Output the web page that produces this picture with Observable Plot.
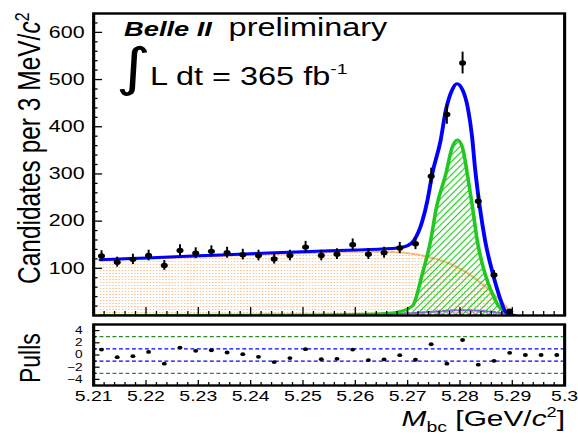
<!DOCTYPE html>
<html><head><meta charset="utf-8">
<script src="https://cdn.jsdelivr.net/npm/d3@7"></script>
<script src="https://cdn.jsdelivr.net/npm/@observablehq/plot@0.6"></script>
<style>
html,body{margin:0;padding:0;background:#fff;overflow:hidden}
#page{position:relative;width:445px;height:438px;transform:scaleX(1.2989);transform-origin:0 0;font-family:"Liberation Sans",Arial,Helvetica,sans-serif}
#main{position:absolute;left:0;top:0}
#pulls{position:absolute;left:0;top:320px}
#labels{position:absolute;left:0;top:0;pointer-events:none;font-family:"Liberation Sans",Arial,Helvetica,sans-serif}
</style></head><body>
<div id="page">
<div id="main"></div>
<div id="pulls"></div>
<svg id="labels" width="445" height="438" xmlns="http://www.w3.org/2000/svg">
  <text transform="translate(31,284) rotate(-90)" font-size="24.5" fill="#000">Candidates per 3 MeV/<tspan font-style="italic">c</tspan><tspan dy="-9" font-size="16">2</tspan></text>
  <text transform="translate(31,383) rotate(-90)" font-size="23" fill="#000">Pulls</text>
  <text x="95.5" y="36" font-size="21" font-weight="bold" font-style="italic" fill="#000">Belle II</text>
  <text x="176" y="36" font-size="25" fill="#000">preliminary</text>
  <text x="89" y="85" font-size="52" font-family="DejaVu Sans" fill="#000">∫</text>
  <text x="115.5" y="85" font-size="25" fill="#000">L dt = 365 fb<tspan dy="-11" font-size="15">-1</tspan></text>
  <text x="435" y="426" text-anchor="end" font-size="23" fill="#000"><tspan font-style="italic">M</tspan><tspan font-size="15" dy="6">bc</tspan><tspan dy="-6"> [GeV/</tspan><tspan font-style="italic">c</tspan><tspan font-size="14" dy="-9">2</tspan><tspan dy="9">]</tspan></text>
</svg>
</div>
<script>
// ---- data ----
const binCenters = [5.2115,5.2145,5.2175,5.2205,5.2235,5.2265,5.2295,5.2325,5.2355,5.2385,5.2415,5.2445,5.2475,5.2505,5.2535,5.2565,5.2595,5.2625,5.2655,5.2685,5.2715,5.2745,5.2775,5.2805,5.2835,5.2865,5.2895,5.2925,5.2955,5.2985];
const candidates = [126,113,119,127,106,138,132,136,133,129,127,120,127,145,127,130,150,130,133,143,152,295,426,535,242,86,9,0,0,0];
const pullValues = [0.89,-0.35,-0.19,0.51,-1.43,1.22,0.68,0.78,0.41,0.14,-0.3,-1.16,-0.51,0.95,-0.68,-0.62,0.89,-0.84,-0.73,-0.03,-0.78,1.76,-1.43,2.46,-1.59,-0.95,0.35,0,0,0];

const totalMass = [5.2113,5.22,5.23,5.24,5.25,5.26,5.265,5.268,5.27,5.2712,5.2728,5.2738,5.2747,5.2763,5.2773,5.2785,5.2794,5.2805,5.2815,5.2823,5.2829,5.2838,5.2848,5.2863,5.2878,5.2887,5.2898,5.2905];
const totalFit = [118,122,126.5,131,135,139,141,143,148,159,200,245,300,371,435,478,491,478,440,380,310,229,159,88,32,8,1,0];

const backgroundMass = [5.2113,5.22,5.23,5.24,5.25,5.26,5.265,5.27,5.274,5.278,5.281,5.284,5.2865,5.288,5.289,5.2898];
const backgroundFit = [117,120.5,124.5,128.5,132,135,135,132,124,110,93,69,45,28,16,0];

const signalMass = [5.2113,5.24,5.25,5.26,5.265,5.268,5.2709,5.2728,5.2744,5.2755,5.2773,5.2785,5.2795,5.2805,5.2814,5.2824,5.2833,5.2848,5.2862,5.2875,5.2891,5.2905];
const signalFit = [0,0.5,1,2.5,4,7,20,88,159,229,300,356,372,355,300,229,159,88,46,18,5,0];

const peakingMass = [5.2113,5.25,5.265,5.272,5.276,5.279,5.282,5.285,5.2875,5.2893,5.2903];
const peakingFit = [1,1.5,3,6,9,11,11,9,6,2,0];

const yTickLabels = [100,200,300,400,500,600];
const yMajorTicks = [0,100,200,300,400,500,600];
const yMinorTicks = [20,40,60,80,120,140,160,180,220,240,260,280,320,340,360,380,420,440,460,480,520,540,560,580,620];
const xTickLabels = [5.21,5.22,5.23,5.24,5.25,5.26,5.27,5.28,5.29,5.3];
const xMinorTicks = [5.212,5.214,5.216,5.218,5.222,5.224,5.226,5.228,5.232,5.234,5.236,5.238,5.242,5.244,5.246,5.248,5.252,5.254,5.256,5.258,5.262,5.264,5.266,5.268,5.272,5.274,5.276,5.278,5.282,5.284,5.286,5.288,5.292,5.294,5.296,5.298];
const pullTickLabels = [-4,-2,0,2,4];
const pullMinorTicks = [-5,-3,-1,1,3,5];
const pullInnerGuides = [-1,1];
const pullOuterGuides = [-3,3];

// ---- tables ----
const points = binCenters.map((m, i) => ({m, n: candidates[i], pull: pullValues[i]}));
const shown = points.filter(d => d.n > 0);
const curve = (ms, vs) => ms.map((m, i) => ({m, v: vs[i]}));
const total = curve(totalMass, totalFit);
const bkg = curve(backgroundMass, backgroundFit);
const sig = curve(signalMass, signalFit);
const peak = curve(peakingMass, peakingFit);

const W = 445, ML = 71.6, MR = 10.8;
const innerW = W - ML - MR;
const font = '"Liberation Sans", Arial, Helvetica, sans-serif';
const xDomain = [5.21, 5.30];

const defs = () => {
  const g = document.createElementNS("http://www.w3.org/2000/svg", "defs");
  g.innerHTML = `
    <pattern id="orangeDots" width="2.4" height="3" patternUnits="userSpaceOnUse">
      <rect width="1.2" height="1" fill="#fdc594"/>
    </pattern>
    <pattern id="greenHatch" width="4" height="4" patternUnits="userSpaceOnUse" patternTransform="rotate(37.6)">
      <line x1="2" y1="0" x2="2" y2="4" stroke="#22c822" stroke-width="1"/>
    </pattern>
    <pattern id="violetHatch" width="4" height="4" patternUnits="userSpaceOnUse" patternTransform="rotate(-37.6)">
      <line x1="2" y1="0" x2="2" y2="4" stroke="#b070ff" stroke-width="1"/>
    </pattern>`;
  return g;
};

const mainPlot = Plot.plot({
  width: W, height: 320,
  marginLeft: ML, marginRight: MR, marginTop: 13, marginBottom: 5,
  style: {fontFamily: font, color: "black", background: "transparent"},
  x: {domain: xDomain, axis: null},
  y: {domain: [0, 640]},
  marks: [
    defs,
    Plot.areaY(bkg, {x: "m", y: "v", fill: "url(#orangeDots)", curve: "monotone-x", clip: true}),
    Plot.line(bkg, {x: "m", y: "v", stroke: "#ffb070", strokeWidth: 2, strokeDasharray: "2,2", curve: "monotone-x", clip: true}),
    Plot.areaY(peak, {x: "m", y: "v", fill: "url(#violetHatch)", curve: "monotone-x", clip: true}),
    Plot.line(peak, {x: "m", y: "v", stroke: "#9a4cf5", strokeWidth: 2, strokeDasharray: "4,2", curve: "monotone-x", clip: true}),
    Plot.areaY(sig, {x: "m", y: "v", fill: "url(#greenHatch)", curve: "monotone-x", clip: true}),
    Plot.line(sig, {x: "m", y: "v", stroke: "#22c822", strokeWidth: 2.8, curve: "monotone-x", clip: true}),
    Plot.line(total, {x: "m", y: "v", stroke: "#0000ff", strokeWidth: 3, curve: "monotone-x", clip: true}),
    Plot.ruleX(shown, {x: "m", y1: d => d.n - Math.sqrt(d.n), y2: d => d.n + Math.sqrt(d.n), stroke: "black", strokeWidth: 1.5}),
    Plot.dot(shown, {x: "m", y: "n", r: 2.7, fill: "black", stroke: "none"}),
    Plot.tickY(yMajorTicks, {y: d => d, insetRight: innerW - 7, stroke: "black", strokeWidth: 1.3}),
    Plot.tickY(yMinorTicks, {y: d => d, insetRight: innerW - 3.5, stroke: "black", strokeWidth: 1.3}),
    Plot.tickX(xTickLabels, {x: d => d, insetTop: 302 - 8, stroke: "black", strokeWidth: 1}),
    Plot.tickX(xMinorTicks, {x: d => d, insetTop: 302 - 4, stroke: "black", strokeWidth: 1}),
    Plot.frame({stroke: "black", strokeWidth: 2.4}),
    Plot.axisY(yTickLabels, {tickSize: 0, tickPadding: 7, fontSize: 16.5, label: null})
  ]
});
document.getElementById("main").append(mainPlot);

const pullPlot = Plot.plot({
  width: W, height: 118,
  marginLeft: ML, marginRight: MR, marginTop: 4, marginBottom: 53,
  style: {fontFamily: font, color: "black", background: "transparent"},
  x: {domain: xDomain, label: null},
  y: {domain: [-5, 5], label: null},
  marks: [
    Plot.ruleY(pullOuterGuides, {y: d => d, stroke: "#2a8a2a", strokeWidth: 1.2, strokeDasharray: "3,2"}),
    Plot.ruleY(pullInnerGuides, {y: d => d, stroke: "#0000ff", strokeWidth: 1.2, strokeDasharray: "3,2"}),
    Plot.dot(points, {x: "m", y: "pull", r: 1.9, fill: "black", stroke: "none"}),
    Plot.tickY(pullTickLabels, {y: d => d, insetRight: innerW - 5, stroke: "black", strokeWidth: 1.2}),
    Plot.tickY(pullMinorTicks, {y: d => d, insetRight: innerW - 2.5, stroke: "black", strokeWidth: 1.2}),
    Plot.tickX(xTickLabels, {x: d => d, insetTop: 61 - 5, stroke: "black", strokeWidth: 1}),
    Plot.tickX(xMinorTicks, {x: d => d, insetTop: 61 - 3, stroke: "black", strokeWidth: 1}),
    Plot.frame({stroke: "black", strokeWidth: 2.4}),
    Plot.axisY(pullTickLabels, {tickSize: 0, tickPadding: 8.5, fontSize: 10.5, label: null}),
    Plot.axisX(xTickLabels, {tickSize: 0, tickPadding: 5, fontSize: 15, label: null, tickFormat: d => String(d)})
  ]
});
document.getElementById("pulls").append(pullPlot);
</script>
</body></html>
